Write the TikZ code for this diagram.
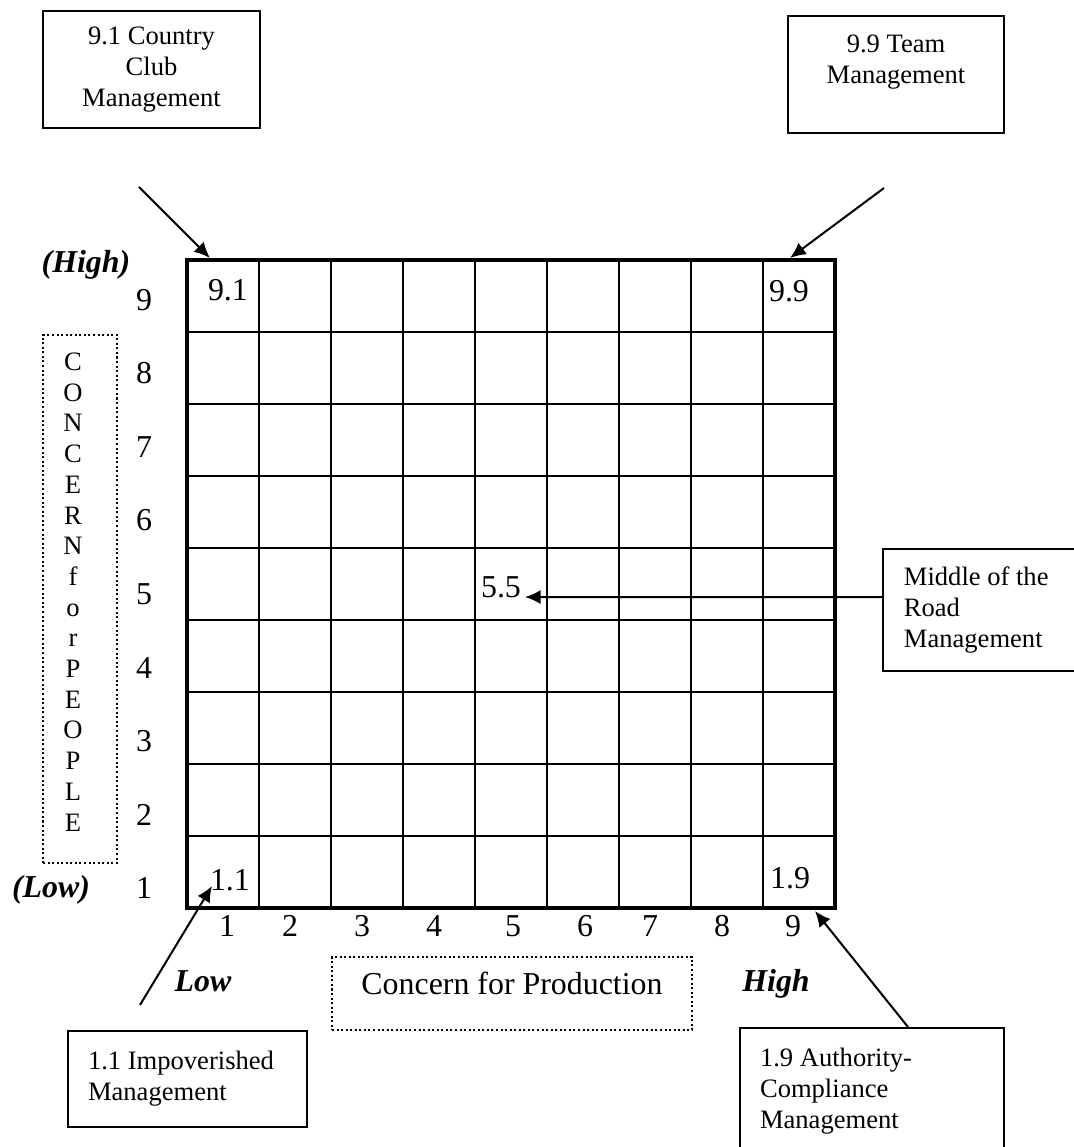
\documentclass[tikz,border=0pt]{standalone}
\usepackage{fontspec}
\setmainfont{Liberation Serif}
\usetikzlibrary{arrows.meta}

\begin{document}
\begin{tikzpicture}[
	bigtxt/.style={font=\fontsize{12.6}{15}\selectfont},
	hl/.style={font=\fontsize{12.6}{15}\selectfont\bfseries\itshape},
	mbox/.style={draw, line width=0.8pt, font=\fontsize{10.5}{12.2}\selectfont, inner sep=0pt},
	dotbox/.style={draw, densely dotted, line width=0.8pt},
	arr/.style={->, >={Latex[length=6.2pt,width=5.6pt]}, line width=0.8pt}]
	\useasboundingbox (-2.597,-3.319) rectangle (12.306,12.611);
	\draw[line width=0.8pt] (0,0) grid (9,9);
	\draw[line width=1.8pt] (0,0) rectangle (9,9);

	\node[bigtxt] (c91) at (0.569, 8.583) {9.1};
	\node[bigtxt] (c99) at (8.361, 8.569) {9.9};
	\node[bigtxt] (c11) at (0.597, 0.389) {1.1};
	\node[bigtxt] (c19) at (8.375, 0.417) {1.9};
	\node[bigtxt] (c55) at (4.361, 4.458) {5.5};

	\foreach \k in {1,...,9}
		\node[bigtxt] (py\k) at (-0.597, {8.444-(9-\k)*1.0208}) {\k};
	\foreach \k/\x in {1/0.556, 2/1.431, 3/2.431, 4/3.431, 5/4.528, 6/5.528, 7/6.431, 8/7.431, 9/8.417}
		\node[bigtxt] (px\k) at (\x, -0.25) {\k};

	\node[hl] (yhigh) at (-1.403, 8.931) {(High)};
	\node[hl] (ylow) at (-1.889, 0.25) {(Low)};
	\node[hl] (xlow) at (0.222, -1.014) {Low};
	\node[hl] (xhigh) at (8.181, -1.056) {High};

	\node[dotbox, minimum width=1.028cm, minimum height=7.333cm] (peoplebox) at (-1.486, 4.292) {};
	\node[font=\fontsize{10.5}{12.13}\selectfont, align=center] (peopletxt) at (-1.583, 4.389) {C\\O\\N\\C\\E\\R\\N\\f\\o\\r\\P\\E\\O\\P\\L\\E};
	\node[dotbox, bigtxt, minimum width=5cm, minimum height=1.014cm, text depth=7.9pt] (prodbox) at (4.514, -1.188) {Concern for Production};

	\node[mbox, minimum width=3.014cm, minimum height=1.625cm, align=center] (ccm) at (-0.493, 11.646) {9.1 Country\\Club\\Management};
	\node[mbox, minimum width=3cm, minimum height=1.625cm, align=center] (tm) at (9.847, 11.576) {9.9 Team\\Management\\\mbox{}};
	\node[mbox, minimum height=1.694cm, text width=2.364cm, inner xsep=0.29cm, align=flush left] (mrm) at (11.139, 4.139) {Middle of the\\Road\\Management};
	\node[mbox, minimum height=1.333cm, text width=2.763cm, inner xsep=0.278cm, align=flush left] (imp) at (0.007, -2.375) {1.1 Impoverished\\Management};
	\node[mbox, minimum height=1.75cm, text width=3.111cm, inner xsep=0.278cm, align=flush left] (acm) at (9.514, -2.542) {1.9 Authority-\\Compliance\\Management};

	\coordinate (ccmtail) at (-0.667, 10.014);
	\coordinate (ccmhead) at (0.319, 9.028);
	\coordinate (tmtail) at (9.681, 10.0);
	\coordinate (tmhead) at (8.375, 9.028);
	\coordinate (imptail) at (-0.653, -1.347);
	\coordinate (imphead) at (0.347, 0.306);
	\coordinate (acmhead) at (8.722, -0.042);
	\coordinate (mrmhead) at (4.694, 4.319);
	\draw[arr] (ccmtail) -- (ccmhead);
	\draw[arr] (tmtail) -- (tmhead);
	\draw[arr] (imptail) -- (imphead);
	\draw[arr] ([xshift=0.5cm]acm.north) -- (acmhead);
	\draw[arr] ([yshift=0.18cm]mrm.west) -- (mrmhead);
\end{tikzpicture}
\end{document}
